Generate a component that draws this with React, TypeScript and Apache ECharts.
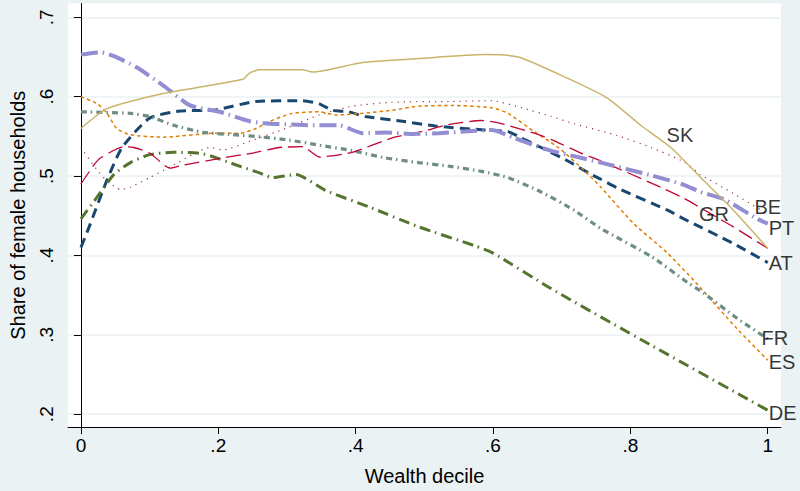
import React, { useEffect, useRef } from "react";
import * as echarts from "echarts";

const xTicks = [0, 0.2, 0.4, 0.6, 0.8, 1];
const yTicks = [0.2, 0.3, 0.4, 0.5, 0.6, 0.7];
const xTitle = "Wealth decile";
const yTitle = "Share of female households";

const AT = [[0,0.410],[0.012,0.436],[0.038,0.495],[0.06,0.536],[0.1,0.573],[0.145,0.582],[0.193,0.583],[0.255,0.594],[0.323,0.595],[0.347,0.591],[0.366,0.583],[0.39,0.581],[0.414,0.575],[0.468,0.569],[0.516,0.563],[0.588,0.558],[0.622,0.556],[0.641,0.548],[0.67,0.536],[0.709,0.519],[0.743,0.502],[0.757,0.496],[0.781,0.485],[0.854,0.457],[0.878,0.446],[0.95,0.415],[1,0.391]];
const BE = [[0,0.536],[0.024,0.507],[0.038,0.494],[0.058,0.483],[0.072,0.486],[0.1,0.498],[0.135,0.514],[0.188,0.536],[0.207,0.533],[0.246,0.544],[0.298,0.560],[0.347,0.577],[0.395,0.588],[0.453,0.593],[0.54,0.594],[0.598,0.595],[0.646,0.585],[0.685,0.575],[0.718,0.566],[0.781,0.551],[0.83,0.536],[0.878,0.518],[0.902,0.502],[0.95,0.478],[1,0.452]];
const DE = [[0,0.446],[0.024,0.474],[0.048,0.502],[0.072,0.517],[0.1,0.527],[0.135,0.530],[0.178,0.528],[0.226,0.514],[0.26,0.504],[0.279,0.498],[0.313,0.502],[0.356,0.482],[0.42,0.461],[0.492,0.436],[0.574,0.412],[0.6,0.403],[0.685,0.358],[0.83,0.287],[1,0.205]];
const ES = [[0,0.600],[0.024,0.591],[0.038,0.579],[0.052,0.560],[0.072,0.552],[0.12,0.549],[0.193,0.554],[0.232,0.554],[0.255,0.560],[0.275,0.569],[0.308,0.579],[0.347,0.581],[0.371,0.577],[0.41,0.579],[0.453,0.583],[0.492,0.588],[0.54,0.589],[0.598,0.586],[0.622,0.579],[0.66,0.556],[0.695,0.536],[0.733,0.507],[0.757,0.486],[0.805,0.440],[0.854,0.403],[0.895,0.366],[0.955,0.308],[1,0.268]];
const FR = [[0,0.581],[0.072,0.579],[0.1,0.575],[0.135,0.564],[0.178,0.555],[0.226,0.552],[0.265,0.549],[0.298,0.546],[0.347,0.539],[0.395,0.532],[0.443,0.523],[0.492,0.517],[0.54,0.512],[0.583,0.506],[0.622,0.498],[0.67,0.480],[0.718,0.457],[0.757,0.434],[0.83,0.399],[0.883,0.366],[0.906,0.353],[0.955,0.321],[1,0.295]];
const GR = [[0,0.490],[0.019,0.514],[0.029,0.523],[0.062,0.537],[0.077,0.536],[0.1,0.529],[0.13,0.510],[0.145,0.513],[0.207,0.523],[0.25,0.529],[0.289,0.536],[0.323,0.537],[0.347,0.524],[0.395,0.530],[0.453,0.548],[0.501,0.557],[0.53,0.564],[0.583,0.570],[0.608,0.567],[0.66,0.554],[0.685,0.546],[0.728,0.529],[0.757,0.519],[0.844,0.486],[0.878,0.472],[0.916,0.453],[0.95,0.436],[1,0.409]];
const PT = [[0,0.653],[0.029,0.656],[0.048,0.651],[0.081,0.637],[0.12,0.614],[0.159,0.589],[0.202,0.581],[0.246,0.569],[0.275,0.566],[0.308,0.565],[0.337,0.564],[0.376,0.564],[0.41,0.554],[0.443,0.555],[0.482,0.553],[0.521,0.554],[0.574,0.557],[0.598,0.558],[0.631,0.548],[0.68,0.533],[0.728,0.523],[0.757,0.517],[0.83,0.501],[0.878,0.489],[0.902,0.480],[0.936,0.471],[0.985,0.446],[1,0.440]];
const SK = [[0,0.560],[0.038,0.585],[0.12,0.604],[0.236,0.622],[0.246,0.630],[0.26,0.634],[0.323,0.634],[0.337,0.631],[0.41,0.643],[0.492,0.648],[0.588,0.653],[0.637,0.650],[0.709,0.623],[0.767,0.598],[0.815,0.564],[0.859,0.536],[0.907,0.494],[0.95,0.457],[1,0.409]];

const seriesDefs = [
  { name: "AT", data: AT, color: "#1A476F", width: 3, dash: [10, 6] as any },
  { name: "BE", data: BE, color: "#90353B", width: 1.2, dash: [1.2, 5] as any },
  { name: "DE", data: DE, color: "#55752F", width: 3, dash: [11, 5, 1.5, 5] as any },
  { name: "ES", data: ES, color: "#E37E00", width: 1.5, dash: [3.5, 3] as any },
  { name: "FR", data: FR, color: "#6E8E84", width: 3.2, dash: [6, 4, 1.5, 4] as any },
  { name: "GR", data: GR, color: "#C10534", width: 1.3, dash: [15, 6] as any },
  { name: "PT", data: PT, color: "#938DD2", width: 4, dash: [17, 5, 1.5, 5] as any },
  { name: "SK", data: SK, color: "#C8B46A", width: 1.5, dash: "solid" as any },
];

// label anchor: which point of the series, and where the text sits
const labelDefs = [
  { name: "AT", idx: AT.length - 1, position: "right", offset: [0, 0] },
  { name: "BE", idx: BE.length - 1, position: "inside", offset: [0, -7] },
  { name: "DE", idx: DE.length - 1, position: "right", offset: [0, 3] },
  { name: "ES", idx: ES.length - 1, position: "right", offset: [0, 2] },
  { name: "FR", idx: FR.length - 1, position: "inside", offset: [7, -1] },
  { name: "GR", idx: 25, position: "inside", offset: [4, 1] },
  { name: "PT", idx: PT.length - 1, position: "right", offset: [0, 4] },
  { name: "SK", idx: 15, position: "inside", offset: [9, -12] },
];

const FONT = "'Liberation Sans', Arial, Helvetica, sans-serif";
const fmt = (v: number) => (v === 0 ? "0" : v === 1 ? "1" : String(+v.toFixed(2)).replace(/^0\./, "."));

export default function App() {
  const ref = useRef<HTMLDivElement>(null);
  useEffect(() => {
    document.body.style.margin = "0";
    const chart = echarts.init(ref.current!, null, { renderer: "svg" });
    const lines = seriesDefs.map((s) => ({
      type: "line",
      name: s.name,
      data: s.data,
      showSymbol: false,
      symbol: "none",
      smooth: 0.2,
      lineStyle: { color: s.color, width: s.width, type: s.dash, cap: "butt" },
      z: 2,
    }));
    const labels = {
      type: "scatter",
      symbolSize: 0,
      silent: true,
      z: 5,
      data: labelDefs.map((l) => {
        const src = seriesDefs.find((s) => s.name === l.name)!.data;
        return {
          value: src[l.idx],
          label: {
            show: true,
            formatter: l.name,
            position: l.position,
            distance: 1,
            offset: l.offset,
            color: "#000",
            fontSize: 20,
            fontFamily: FONT,
          },
        };
      }),
    };
    chart.setOption({
      animation: false,
      backgroundColor: "#EAF2F3",
      grid: {
        left: 64,
        right: 19,
        top: 3.5,
        bottom: 58,
        show: true,
        backgroundColor: "#FFFFFF",
        borderWidth: 0,
      },
      xAxis: {
        type: "value",
        min: -0.0188,
        max: 1.0193,
        name: xTitle,
        nameLocation: "middle",
        nameGap: 39,
        nameTextStyle: { fontSize: 20, fontFamily: FONT, color: "#000" },
        axisLine: { show: true, lineStyle: { color: "#000", width: 1 } },
        axisTick: { show: true, length: 7, lineStyle: { color: "#000" }, customValues: xTicks },
        axisLabel: { customValues: xTicks, formatter: fmt, fontSize: 19, fontFamily: FONT, color: "#000", margin: 9 },
        splitLine: { show: false },
      },
      yAxis: {
        type: "value",
        min: 0.1839,
        max: 0.7174,
        name: yTitle,
        nameLocation: "middle",
        nameGap: 40,
        nameTextStyle: { fontSize: 20, fontFamily: FONT, color: "#000" },
        axisLine: { show: true, lineStyle: { color: "#000", width: 1 } },
        axisTick: { show: true, length: 7, lineStyle: { color: "#000" }, customValues: yTicks },
        axisLabel: { customValues: yTicks, formatter: fmt, rotate: 90, fontSize: 19, fontFamily: FONT, color: "#000", margin: 12 },
        splitLine: { show: true, lineStyle: { color: "#EAF2F3", width: 1.5 } },
      },
      series: [...lines, labels],
    });
    return () => chart.dispose();
  }, []);
  return <div ref={ref} style={{ width: 800, height: 491 }} />;
}
